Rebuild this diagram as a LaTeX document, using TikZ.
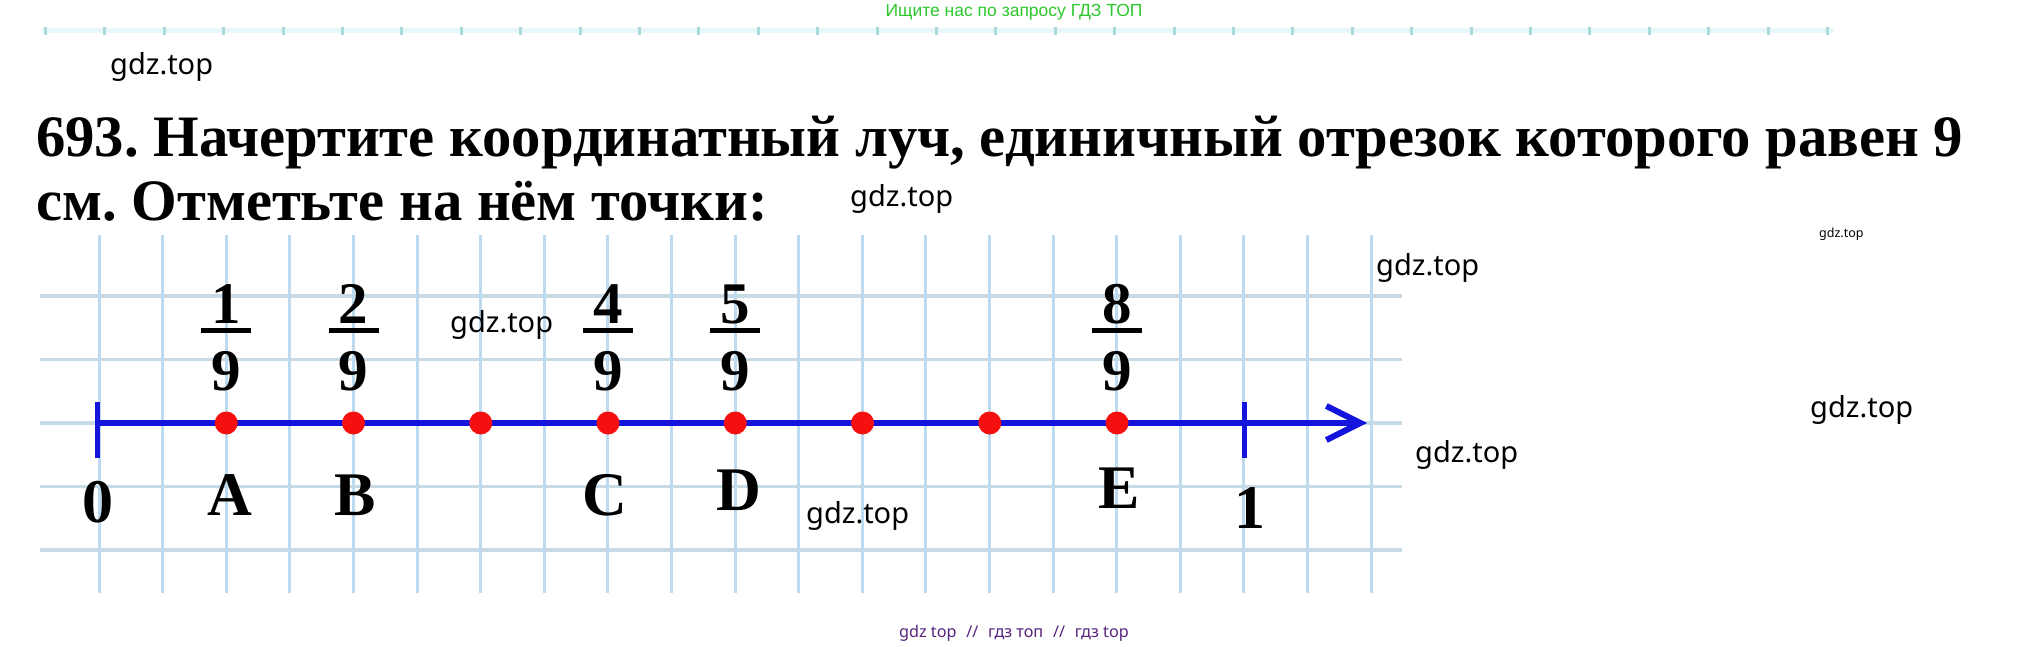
\documentclass[tikz,border=0pt]{standalone}
\usepackage{fontspec}
\setmainfont{Liberation Serif}
\newfontfamily\wmfont{Noto Sans}
\newfontfamily\grfont{Liberation Sans}
\usetikzlibrary{arrows.meta}
\definecolor{gridv}{RGB}{190,218,238}
\definecolor{gridh}{RGB}{200,218,230}
\definecolor{axisblue}{RGB}{20,20,220}
\definecolor{dotred}{RGB}{245,15,15}
\definecolor{topgreen}{RGB}{45,200,45}
\definecolor{botpurple}{RGB}{85,35,125}
\definecolor{bandc}{RGB}{232,247,248}
\definecolor{markc}{RGB}{170,218,220}
\begin{document}
\frenchspacing
\begin{tikzpicture}[x=1pt,y=-1pt,
 wm/.style={font=\wmfont\fontsize{29}{32}\selectfont, anchor=base west, inner sep=0pt},
 wmsmall/.style={font=\wmfont\fontsize{12.5}{14}\selectfont, anchor=base west, inner sep=0pt},
 titletext/.style={font=\bfseries\fontsize{58.7}{70}\selectfont, anchor=base west, inner sep=0pt},
 lbl/.style={font=\bfseries\fontsize{62}{70}\selectfont, anchor=base, inner sep=0pt},
 fracdigit/.style={font=\bfseries\fontsize{59}{70}\selectfont, anchor=base, inner sep=0pt},
 gridvline/.style={draw=gridv, line width=3pt},
 gridhline/.style={draw=gridh, line width=3.5pt},
 dotp/.style={circle, fill=dotred, minimum size=23pt, inner sep=0pt},
 tickline/.style={draw=axisblue, line width=5pt},
 fracbar/.style={draw=black, line width=5pt},
]
\useasboundingbox (0,0) rectangle (2030,647);
\fill[white] (0,0) rectangle (2030,647);

% faint band at top
\draw[bandc, line width=5pt] (42,31) -- (1834,31);
\foreach \i in {0,...,30} \fill[markc] ({44+59.4*\i},27) rectangle +(3,8);

% grid
\foreach \j in {-2,...,2} \draw[gridhline] (40,{423+63.6*\j}) -- (1402,{423+63.6*\j});
\foreach \k in {0,...,20} \draw[gridvline] ({99+63.6*\k},235) -- ({99+63.6*\k},593);

% axis
\coordinate (O) at (97,423);
\coordinate (T) at (1367,423);
\draw[axisblue, line width=6pt, -{Straight Barb[length=34pt,width=34pt,line width=6pt]}] (O) -- (T);
\coordinate (O1) at (97,402); \coordinate (O2) at (97,458);
\coordinate (U1) at (1244,402); \coordinate (U2) at (1244,458);
\draw[tickline] (O1) -- (O2);
\draw[tickline] (U1) -- (U2);

% points
\foreach \k in {1,...,8} \node[dotp] (p\k) at ({99+127.25*\k},423) {};

% fractions
\foreach \k in {1,2,4,5,8} {
  \node[fracdigit] (n\k) at ({99+127.25*\k},323) {\k};
  \coordinate (bl\k) at ({99+127.25*\k-25},330);
  \coordinate (br\k) at ({99+127.25*\k+25},330);
  \draw[fracbar] (bl\k) -- (br\k);
  \node[fracdigit] (d\k) at ({99+127.25*\k},390) {9};
}

% labels
\node[lbl] (l0) at (98,522) {0};
\node[lbl] (lA) at (230,515) {A};
\node[lbl] (lB) at (355,515) {B};
\node[lbl] (lC) at (605,515) {C};
\node[lbl] (lD) at (739,510) {D};
\node[lbl] (lE) at (1119,508) {E};
\node[lbl] (l1) at (1250,528) {1};

% title
\node[titletext] (t1) at (36,157) {693. Начертите координатный луч, единичный отрезок которого равен 9};
\node[titletext] (t2) at (36,221) {см. Отметьте на нём точки:};

% watermarks
\node[wm] (w1) at (110,75) {gdz.top};
\node[wm] (w2) at (850,207) {gdz.top};
\node[wmsmall] (w3) at (1819,238) {gdz.top};
\node[wm] (w4) at (1376,276) {gdz.top};
\node[wm] (w5) at (450,332) {gdz.top};
\node[wm] (w6) at (1810,417) {gdz.top};
\node[wm] (w7) at (1415,462) {gdz.top};
\node[wm] (w8) at (806,523) {gdz.top};

\node[font=\grfont\fontsize{17.5}{20}\selectfont, text=topgreen, anchor=base, inner sep=0pt] (g) at (1014,17) {Ищите нас по запросу ГДЗ ТОП};
\node[font=\wmfont\fontsize{16.2}{19}\selectfont, text=botpurple, anchor=base, inner sep=0pt] (b) at (1014,637) {gdz top\hspace{0.6em}//\hspace{0.6em}гдз топ\hspace{0.6em}//\hspace{0.6em}гдз top};
\end{tikzpicture}
\end{document}
